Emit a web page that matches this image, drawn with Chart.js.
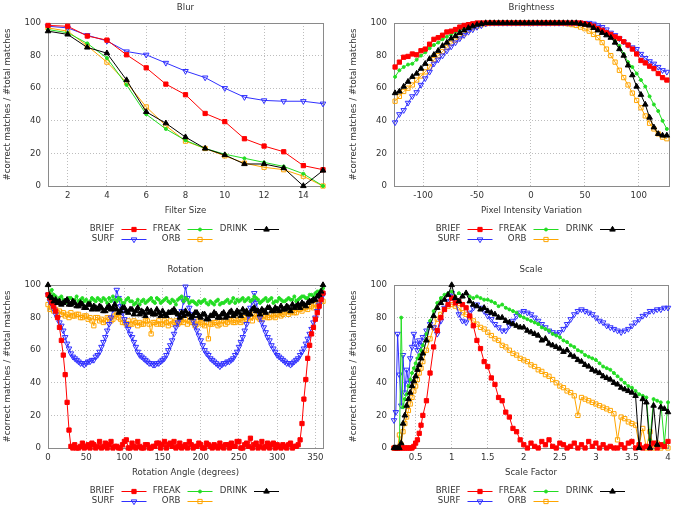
<!DOCTYPE html>
<html>
<head>
<meta charset="utf-8">
<script src="https://cdn.jsdelivr.net/npm/chart.js"></script>
<style>
  html, body { margin: 0; padding: 0; background: #fff; }
  #wrap { position: relative; width: 693px; height: 511px; }
  #wrap canvas { position: absolute; }
</style>
</head>
<body>
<div id="wrap">
  <canvas id="blurChart" width="340" height="258" style="left:0;top:0"></canvas>
  <canvas id="brightChart" width="347" height="258" style="left:346px;top:0"></canvas>
  <canvas id="rotChart" width="340" height="249" style="left:0;top:262px"></canvas>
  <canvas id="scaleChart" width="347" height="249" style="left:346px;top:262px"></canvas>
</div>
<script>
// ---- data ----
const yTicks = [0, 20, 40, 60, 80, 100];

// Blur
const blurX = [1, 2, 3, 4, 5, 6, 7, 8, 9, 10, 11, 12, 13, 14, 15];
const blurTicks = [2, 4, 6, 8, 10, 12, 14];
const blurBrief = [98.5, 98, 92, 89.5, 80.5, 72.5, 62.5, 56, 44.5, 39.5, 29, 24.5, 21, 12.5, 10];
const blurFreak = [96, 94, 87.5, 78.5, 62, 44, 35, 28, 23, 19.5, 17, 14.5, 12, 7.5, 0];
const blurDrink = [95, 93, 85, 81.5, 65, 45.5, 38.5, 30, 23, 19, 13.5, 13.5, 11, 0, 9.5];
const blurSurf = [98, 97, 92.5, 89, 82.5, 80.5, 75.5, 70.5, 66.5, 60, 54.5, 52.5, 52, 52, 50.5];
const blurOrb = [97, 95, 86, 76, 63.5, 48.5, 37, 27.5, 23, 18.5, 14, 11.5, 10, 6, 0];

// Brightness
const brightX = [-126, -122, -118, -114, -110, -106, -102, -98, -94, -90,
  -86, -82, -78, -74, -70, -66, -62, -58, -54, -50,
  -46, -42, -38, -34, -30, -26, -22, -18, -14, -10,
  -6, -2, 2, 6, 10, 14, 18, 22, 26, 30,
  34, 38, 42, 46, 50, 54, 58, 62, 66, 70,
  74, 78, 82, 86, 90, 94, 98, 102, 106, 110,
  114, 118, 122, 126];
const brightTicks = [-100, -50, 0, 50, 100];
const brightBrief = [73, 76, 79, 79.5, 81, 80.5, 83, 84, 87, 90,
  91, 92.5, 94.5, 95, 96, 97.5, 98.5, 99, 99.5, 100,
  100, 100, 100, 100, 100, 100, 100, 100, 100, 100,
  100, 100, 100, 100, 100, 100, 100, 100, 100, 100,
  100, 100, 100, 100, 99.5, 99, 98, 96.5, 95.5, 94,
  93, 91.5, 90.5, 88.5, 86.5, 84, 81, 77, 75.5, 73.5,
  72, 69, 66.5, 65];
const brightFreak = [67, 71, 73, 74.5, 75, 77.5, 80, 82, 84.5, 86.5,
  88, 90, 91.5, 93, 94.5, 96, 96.5, 98, 99, 99.5,
  100, 100, 100, 100, 100, 100, 100, 100, 100, 100,
  100, 100, 100, 100, 100, 100, 100, 100, 100, 100,
  100, 100, 100, 100, 99.5, 99, 98, 97, 95.5, 94,
  92, 89, 86, 81, 76, 73, 69, 65, 61, 55,
  50, 46, 40, 35];
const brightDrink = [57, 58, 61, 64, 67, 69, 72, 75, 78, 80.5,
  83, 86, 88, 90.5, 92, 94, 95.5, 97, 98, 99,
  99.5, 100, 100, 100, 100, 100, 100, 100, 100, 100,
  100, 100, 100, 100, 100, 100, 100, 100, 100, 100,
  100, 100, 100, 99.5, 99, 98.5, 97, 95.5, 94, 92.5,
  91, 88, 84, 80, 74, 68, 61, 56, 50, 42,
  36, 32, 31, 31];
const brightSurf = [39, 44, 46.5, 51, 55, 57.5, 62, 66, 70, 75,
  77.5, 80, 83, 85.5, 88, 90.5, 92.5, 94.5, 96, 97.5,
  98.5, 99.5, 100, 100, 100, 100, 100, 100, 100, 100,
  100, 100, 100, 100, 100, 100, 100, 100, 100, 100,
  100, 100, 100, 100, 100, 100, 99.5, 98.5, 97.5, 96,
  94, 92.5, 90.5, 88.5, 86.5, 85, 84, 81, 78.5, 76.5,
  75, 73, 71, 70];
const brightOrb = [52, 55, 58, 60, 62, 65, 67.5, 70, 73, 77.5,
  80, 82.5, 85, 87.5, 89.5, 91.5, 93.5, 95.5, 97, 98,
  99, 99.5, 100, 100, 100, 100, 100, 100, 100, 100,
  100, 100, 100, 100, 100, 100, 100, 100, 100, 100,
  99.5, 99, 98.5, 97.5, 96.5, 95, 93, 91, 88, 84,
  80, 76, 71, 66.5, 62, 57, 52.5, 48, 43, 38.5,
  35, 32, 30, 29];

// Rotation (every 2.5 degrees)
const rotX = [0, 2.5, 5, 7.5, 10, 12.5, 15, 17.5, 20, 22.5,
  25, 27.5, 30, 32.5, 35, 37.5, 40, 42.5, 45, 47.5,
  50, 52.5, 55, 57.5, 60, 62.5, 65, 67.5, 70, 72.5,
  75, 77.5, 80, 82.5, 85, 87.5, 90, 92.5, 95, 97.5,
  100, 102.5, 105, 107.5, 110, 112.5, 115, 117.5, 120, 122.5,
  125, 127.5, 130, 132.5, 135, 137.5, 140, 142.5, 145, 147.5,
  150, 152.5, 155, 157.5, 160, 162.5, 165, 167.5, 170, 172.5,
  175, 177.5, 180, 182.5, 185, 187.5, 190, 192.5, 195, 197.5,
  200, 202.5, 205, 207.5, 210, 212.5, 215, 217.5, 220, 222.5,
  225, 227.5, 230, 232.5, 235, 237.5, 240, 242.5, 245, 247.5,
  250, 252.5, 255, 257.5, 260, 262.5, 265, 267.5, 270, 272.5,
  275, 277.5, 280, 282.5, 285, 287.5, 290, 292.5, 295, 297.5,
  300, 302.5, 305, 307.5, 310, 312.5, 315, 317.5, 320, 322.5,
  325, 327.5, 330, 332.5, 335, 337.5, 340, 342.5, 345, 347.5,
  350, 352.5, 355, 357.5, 360];
const rotTicks = [0, 50, 100, 150, 200, 250, 300, 350];
const rotBrief = [94, 92, 89, 87, 84, 80, 74, 66, 57, 45,
  28, 11, 1, 0, 2, 0, 0, 1, 3, 0,
  1, 2, 0, 3, 2, 0, 1, 4, 0, 1,
  3, 0, 2, 4, 0, 1, 1, 0, 0, 2,
  4, 5, 0, 0, 3, 1, 0, 4, 1, 0,
  0, 2, 2, 0, 0, 1, 1, 3, 3, 0,
  2, 4, 0, 2, 3, 1, 4, 0, 1, 3,
  0, 1, 2, 0, 4, 2, 0, 1, 1, 3,
  2, 0, 0, 3, 2, 1, 0, 2, 1, 0,
  3, 1, 0, 2, 2, 0, 3, 1, 1, 4,
  4, 0, 0, 2, 3, 1, 6, 0, 2, 3,
  0, 1, 4, 0, 1, 3, 0, 2, 3, 0,
  2, 1, 0, 2, 1, 0, 2, 3, 0, 1,
  1, 2, 5, 15, 30, 42, 55, 63, 70, 74,
  79, 83, 87, 91, 95];
const rotFreak = [93, 95, 97, 94, 93, 91, 92, 93, 91, 89,
  90, 92, 92, 90, 91, 93, 90, 91, 92, 90,
  91, 89, 90, 92, 91, 90, 92, 91, 90, 92,
  91, 89, 92, 90, 93, 91, 90, 92, 91, 89,
  89, 91, 92, 90, 90, 88, 89, 91, 88, 90,
  91, 89, 90, 91, 92, 90, 89, 92, 91, 89,
  90, 91, 92, 90, 89, 91, 90, 88, 91, 92,
  93, 90, 92, 91, 89, 90, 90, 89, 88, 90,
  89, 90, 91, 89, 88, 90, 89, 88, 90, 91,
  88, 89, 89, 90, 91, 89, 90, 92, 89, 91,
  90, 91, 92, 90, 91, 92, 90, 91, 93, 92,
  91, 89, 90, 91, 92, 90, 91, 92, 89, 90,
  90, 92, 91, 90, 90, 91, 92, 91, 91, 93,
  90, 91, 92, 93, 93, 92, 92, 94, 94, 93,
  95, 96, 96, 97, 98];
const rotDrink = [100, 93, 92, 90, 91, 89, 90, 88, 89, 90,
  91, 88, 88, 90, 89, 87, 87, 89, 88, 86,
  86, 88, 88, 85, 87, 86, 85, 87, 86, 84,
  84, 86, 87, 85, 86, 88, 85, 83, 84, 86,
  86, 84, 83, 85, 85, 82, 84, 86, 82, 84,
  83, 81, 85, 83, 84, 82, 82, 85, 83, 81,
  84, 82, 81, 83, 83, 84, 85, 83, 82, 80,
  83, 81, 84, 82, 82, 80, 81, 83, 83, 81,
  80, 82, 82, 79, 79, 81, 81, 83, 82, 80,
  80, 82, 83, 80, 81, 83, 84, 81, 82, 84,
  83, 81, 85, 83, 84, 82, 82, 85, 86, 84,
  84, 82, 85, 84, 83, 86, 86, 84, 84, 86,
  85, 84, 87, 85, 85, 87, 86, 84, 88, 86,
  87, 88, 86, 89, 88, 87, 89, 90, 90, 91,
  91, 93, 94, 96, 100];
const rotSurf = [94, 90, 88, 85, 82, 80, 77, 75, 72, 68,
  64, 61, 58, 56, 55, 54, 53, 52, 52, 51,
  52, 53, 53, 54, 54, 56, 57, 59, 62, 65,
  68, 72, 76, 80, 85, 90, 97, 92, 87, 83,
  79, 76, 73, 70, 68, 65, 62, 59, 57, 56,
  55, 54, 53, 52, 52, 51, 51, 52, 52, 53,
  54, 55, 57, 60, 63, 66, 70, 74, 77, 80,
  84, 90, 99, 92, 86, 82, 78, 75, 72, 69,
  66, 63, 60, 58, 57, 55, 54, 53, 52, 51,
  50, 51, 52, 52, 53, 53, 54, 55, 57, 59,
  62, 65, 68, 72, 76, 81, 86, 90, 95, 89,
  84, 80, 77, 74, 71, 68, 66, 63, 61, 59,
  57, 56, 55, 54, 53, 52, 52, 51, 52, 53,
  54, 55, 57, 59, 61, 64, 67, 70, 73, 77,
  80, 84, 88, 91, 94];
const rotOrb = [88, 85, 86, 84, 85, 83, 84, 82, 83, 81,
  82, 80, 83, 81, 81, 82, 82, 80, 80, 81,
  81, 79, 80, 78, 75, 80, 80, 78, 79, 77,
  78, 80, 80, 78, 79, 81, 82, 80, 79, 77,
  77, 76, 78, 76, 76, 78, 77, 75, 77, 76,
  76, 78, 78, 76, 70, 77, 77, 76, 78, 76,
  76, 78, 77, 75, 78, 76, 77, 78, 76, 77,
  78, 77, 79, 76, 78, 77, 77, 75, 76, 78,
  77, 76, 75, 77, 67, 76, 76, 77, 77, 75,
  76, 78, 78, 76, 77, 79, 78, 77, 77, 78,
  79, 77, 78, 80, 79, 81, 80, 78, 82, 81,
  80, 79, 79, 81, 81, 80, 80, 82, 81, 80,
  82, 83, 81, 82, 83, 84, 82, 83, 84, 83,
  83, 85, 85, 84, 86, 86, 85, 87, 87, 86,
  88, 87, 89, 90, 90];

// Scale
const scaleX = [0.2, 0.225, 0.25, 0.275, 0.3, 0.325, 0.35, 0.375, 0.4, 0.425,
  0.45, 0.475, 0.5, 0.525, 0.55, 0.575, 0.6,
  0.65, 0.7, 0.75, 0.8, 0.85, 0.9, 0.95, 1, 1.05, 1.1,
  1.15, 1.2, 1.25, 1.3, 1.35, 1.4, 1.45, 1.5, 1.55, 1.6,
  1.65, 1.7, 1.75, 1.8, 1.85, 1.9, 1.95, 2, 2.05, 2.1,
  2.15, 2.2, 2.25, 2.3, 2.35, 2.4, 2.45, 2.5, 2.55, 2.6,
  2.65, 2.7, 2.75, 2.8, 2.85, 2.9, 2.95, 3, 3.05, 3.1,
  3.15, 3.2, 3.25, 3.3, 3.35, 3.4, 3.45, 3.5, 3.55, 3.6,
  3.65, 3.7, 3.75, 3.8, 3.85, 3.9, 3.95, 4];
const scaleTicks = [0.5, 1, 1.5, 2, 2.5, 3, 3.5, 4];
const scaleBrief = [0, 0, 0, 0, 0, 0, 0, 0, 0, 0, 0, 1, 3, 5, 9, 14, 20,
  29, 46, 62, 72, 80, 85, 88, 92, 89, 90,
  88, 86, 81, 75, 66, 61, 53, 50, 43, 39,
  31, 29, 22, 19, 12, 10, 5, 2, 0, 3,
  1, 0, 4, 2, 5, 1, 0, 3, 2, 0,
  1, 3, 0, 2, 0, 4, 1, 3, 0, 2,
  0, 1, 0, 0, 2, 0, 3, 4, 0, 2,
  0, 1, 0, 3, 0, 2, 1, 4];
const scaleFreak = [0, 0, 0, 0, 80, 25, 30, 33, 38, 42, 46, 49, 52, 55, 57, 60, 63,
  70, 78, 84, 89, 92, 94, 95, 96, 93, 95,
  93, 95, 93, 92, 93, 92, 91, 91, 90, 89,
  87, 88, 86, 85, 84, 83, 81, 80, 79, 78,
  77, 76, 74, 73, 72, 70, 69, 68, 66, 65,
  63, 62, 60, 59, 57, 56, 55, 54, 52, 50,
  49, 48, 46, 44, 42, 40, 38, 37, 35, 33,
  32, 31, 5, 30, 29, 28, 3, 28];
const scaleDrink = [0, 0, 0, 0, 3, 15, 20, 26, 30, 34, 38, 41, 44, 48, 51, 55, 58,
  66, 75, 81, 86, 89, 91, 94, 100, 92, 90,
  93, 95, 90, 88, 87, 85, 86, 84, 83, 82,
  80, 80, 78, 77, 76, 75, 74, 74, 72, 71,
  70, 69, 66, 67, 64, 63, 62, 61, 59, 60,
  57, 56, 54, 53, 51, 50, 48, 47, 46, 44,
  43, 42, 40, 39, 37, 36, 35, 34, 32, 0,
  30, 28, 0, 26, 2, 25, 24, 22];
const scaleSurf = [17, 22, 70, 45, 26, 57, 34, 48, 40, 55, 62, 70, 64, 60, 66, 63, 68,
  72, 76, 74, 70, 78, 86, 90, 95, 90, 82,
  78, 77, 83, 86, 88, 86, 84, 81, 79, 76,
  74, 72, 72, 75, 78, 81, 83, 84, 83, 82,
  80, 78, 76, 74, 72, 71, 70, 71, 73, 76,
  79, 82, 84, 85, 84, 83, 82, 80, 78, 77,
  75, 74, 73, 72, 71, 72, 73, 75, 77, 79,
  81, 82, 84, 84, 85, 85, 86, 86];
const scaleOrb = [0, 0, 0, 8, 2, 10, 15, 19, 23, 27, 31, 35, 38, 42, 46, 49, 53,
  60, 67, 74, 79, 82, 85, 87, 88, 87, 86,
  83, 82, 80, 78, 76, 74, 73, 71, 69, 67,
  66, 63, 62, 60, 58, 57, 55, 54, 53, 51,
  50, 48, 47, 45, 44, 42, 40, 38, 37, 35,
  34, 32, 20, 31, 30, 29, 28, 27, 26, 25,
  24, 23, 21, 5, 19, 18, 16, 15, 14, 2,
  12, 0, 10, 0, 3, 0, 1, 0];

// ---- look ----
const FONT = "'DejaVu Sans', sans-serif";
const FONT_SIZE = 8.6;
const TEXT = '#333333';
const CLEAR = 'rgba(0,0,0,0)';

const seriesStyle = {
  BRIEF: { color: '#ff0000', fill: '#ff0000', shape: 'rect', radius: 3, rotation: 0, order: 1 },
  FREAK: { color: '#22dd22', fill: '#22dd22', shape: 'circle', radius: 1.5, rotation: 0, order: 2 },
  DRINK: { color: '#000000', fill: '#000000', shape: 'triangle', radius: 3.2, rotation: 0, order: 0 },
  SURF:  { color: '#3030ff', fill: CLEAR, shape: 'triangle', radius: 3.2, rotation: 180, order: 3 },
  ORB:   { color: '#ffa500', fill: CLEAR, shape: 'rect', radius: 3, rotation: 0, order: 4 }
};
// legend slots: [name, row, column]
const legendSlots = [['BRIEF', 0, 0], ['FREAK', 0, 1], ['DRINK', 0, 2], ['SURF', 1, 0], ['ORB', 1, 1]];
const legendCols = [66.5, 132.5, 199];

function drawMarker(ctx, s, x, y) {
  const r = s.radius;
  ctx.beginPath();
  if (s.shape === 'rect') {
    const h = r * Math.SQRT1_2;
    ctx.rect(x - h, y - h, 2 * h, 2 * h);
  } else if (s.shape === 'triangle') {
    let a = s.rotation * Math.PI / 180;
    ctx.moveTo(x + Math.sin(a) * r, y - Math.cos(a) * r);
    a += 2 * Math.PI / 3;
    ctx.lineTo(x + Math.sin(a) * r, y - Math.cos(a) * r);
    a += 2 * Math.PI / 3;
    ctx.lineTo(x + Math.sin(a) * r, y - Math.cos(a) * r);
    ctx.closePath();
  } else {
    ctx.arc(x, y, r, 0, Math.PI * 2);
  }
  ctx.fillStyle = s.fill;
  ctx.fill();
  ctx.strokeStyle = s.color;
  ctx.lineWidth = 1;
  ctx.stroke();
}

const panelPlugin = {
  id: 'panel',
  beforeDatasetsDraw(chart) {
    const { ctx, chartArea: a } = chart;
    ctx.save();
    ctx.strokeStyle = '#8a8a8a';
    ctx.lineWidth = 1;
    ctx.strokeRect(Math.round(a.left) + 0.5, Math.round(a.top) + 0.5,
      Math.round(a.right - a.left), Math.round(a.bottom - a.top));
    ctx.restore();
  },
  afterDraw(chart, args, opts) {
    const { ctx, chartArea: a } = chart;
    ctx.save();
    ctx.font = FONT_SIZE + 'px ' + FONT;
    ctx.fillStyle = TEXT;
    ctx.textBaseline = 'middle';
    ctx.textAlign = 'center';
    ctx.fillText(opts.title, (a.left + a.right) / 2, a.top - 15);

    // gnuplot style key: label, then a line sample with its marker
    ctx.textAlign = 'right';
    legendSlots.forEach(([name, row, col]) => {
      const s = seriesStyle[name];
      const x = a.left + legendCols[col];
      const y = a.bottom + 43 + row * 10;
      ctx.fillStyle = TEXT;
      ctx.fillText(name, x, y);
      ctx.beginPath();
      ctx.moveTo(x + 7, y + 0.5);
      ctx.lineTo(x + 32, y + 0.5);
      ctx.strokeStyle = s.color;
      ctx.lineWidth = 1;
      ctx.stroke();
      drawMarker(ctx, s, x + 19.5, y + 0.5);
    });
    ctx.restore();
  }
};

function makeDataset(name, xs, ys) {
  const s = seriesStyle[name];
  return {
    label: name,
    data: xs.map((x, i) => ({ x: x, y: ys[i] })),
    borderColor: s.color,
    backgroundColor: s.fill,
    borderWidth: 1,
    pointStyle: s.shape,
    pointRadius: s.radius,
    pointRotation: s.rotation,
    pointBorderColor: s.color,
    pointBackgroundColor: s.fill,
    pointBorderWidth: 1,
    order: s.order,
    clip: false,
    tension: 0
  };
}

function makeChart(id, title, xTitle, xs, series, xMin, xMax, xTicks, padRight, padBottom) {
  const font = { family: FONT, size: FONT_SIZE };
  new Chart(document.getElementById(id), {
    type: 'line',
    data: {
      datasets: [
        makeDataset('BRIEF', xs, series[0]),
        makeDataset('FREAK', xs, series[1]),
        makeDataset('DRINK', xs, series[2]),
        makeDataset('SURF', xs, series[3]),
        makeDataset('ORB', xs, series[4])
      ]
    },
    options: {
      responsive: false,
      animation: false,
      devicePixelRatio: 1,
      events: [],
      layout: { padding: { top: 23, right: padRight, bottom: padBottom, left: 0 } },
      plugins: {
        legend: { display: false },
        tooltip: { enabled: false },
        panel: { title: title }
      },
      scales: {
        x: {
          type: 'linear',
          min: xMin,
          max: xMax,
          afterBuildTicks: s => { s.ticks = xTicks.map(v => ({ value: v })); },
          afterFit: s => { s.height = 30; },
          ticks: { color: TEXT, font: font, padding: 5, maxRotation: 0, autoSkip: false, callback: v => String(v) },
          grid: { color: '#bdbdbd', drawTicks: false, lineWidth: 1 },
          border: { display: false, dash: [1, 2] },
          title: { display: true, text: xTitle, color: TEXT, font: font, padding: { top: 0, bottom: 0 } }
        },
        y: {
          min: 0,
          max: 100,
          afterBuildTicks: s => { s.ticks = yTicks.map(v => ({ value: v })); },
          afterFit: s => { s.width = 48; },
          ticks: { color: TEXT, font: font, padding: 7, callback: v => String(v) },
          grid: { color: '#bdbdbd', drawTicks: false, lineWidth: 1 },
          border: { display: false, dash: [1, 2] },
          title: { display: true, text: '#correct matches / #total matches', color: TEXT, font: font, padding: { top: 3, bottom: 0 } }
        }
      }
    },
    plugins: [panelPlugin]
  });
}

makeChart('blurChart', 'Blur', 'Filter Size', blurX,
  [blurBrief, blurFreak, blurDrink, blurSurf, blurOrb], 1, 15, blurTicks, 17, 42);
makeChart('brightChart', 'Brightness', 'Pixel Intensity Variation', brightX,
  [brightBrief, brightFreak, brightDrink, brightSurf, brightOrb], -127, 128, brightTicks, 24, 42);
makeChart('rotChart', 'Rotation', 'Rotation Angle (degrees)', rotX,
  [rotBrief, rotFreak, rotDrink, rotSurf, rotOrb], 0, 360, rotTicks, 17, 33);
makeChart('scaleChart', 'Scale', 'Scale Factor', scaleX,
  [scaleBrief, scaleFreak, scaleDrink, scaleSurf, scaleOrb], 0.2, 4, scaleTicks, 25, 33);
</script>
</body>
</html>
